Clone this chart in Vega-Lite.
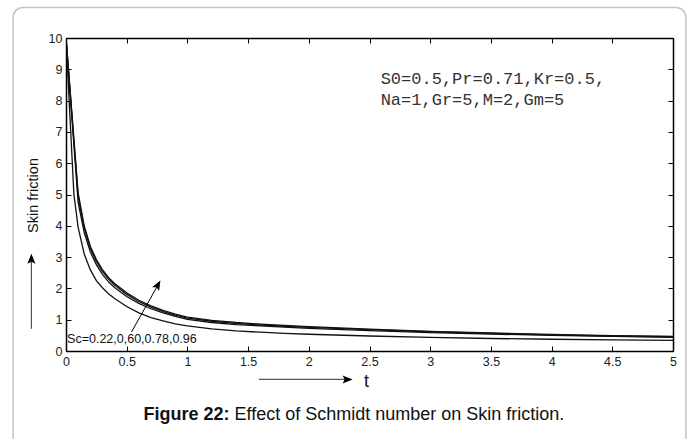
{
  "$schema": "https://vega.github.io/schema/vega-lite/v6.json",
  "width": 607,
  "height": 313,
  "autosize": "none",
  "padding": {"left": 66, "top": 38, "right": 22, "bottom": 88},
  "background": "white",
  "config": {
    "view": {"stroke": null},
    "font": "Liberation Sans",
    "axis": {
      "domainColor": "black",
      "domainWidth": 1.5,
      "tickColor": "black",
      "tickWidth": 1,
      "tickSize": -5,
      "grid": false,
      "labelFont": "Liberation Sans",
      "labelFontSize": 12.5,
      "labelColor": "#222",
      "labelFlush": false,
      "labelOverlap": false,
      "format": "~r",
      "titleFont": "Liberation Sans",
      "titleFontWeight": "normal",
      "titleColor": "#111"
    }
  },
  "datasets": {
    "curves": [
      {"Sc": "0.22", "t": 0, "v": 10}, {"Sc": "0.22", "t": 0.065, "v": 5.0}, {"Sc": "0.22", "t": 0.1, "v": 3.95}, {"Sc": "0.22", "t": 0.15, "v": 3.1}, {"Sc": "0.22", "t": 0.2, "v": 2.6}, {"Sc": "0.22", "t": 0.25, "v": 2.25}, {"Sc": "0.22", "t": 0.3, "v": 2.02}, {"Sc": "0.22", "t": 0.35, "v": 1.83}, {"Sc": "0.22", "t": 0.4, "v": 1.68}, {"Sc": "0.22", "t": 0.5, "v": 1.42}, {"Sc": "0.22", "t": 0.6, "v": 1.22}, {"Sc": "0.22", "t": 0.7, "v": 1.07}, {"Sc": "0.22", "t": 0.8, "v": 0.96}, {"Sc": "0.22", "t": 0.9, "v": 0.87}, {"Sc": "0.22", "t": 1.0, "v": 0.8}, {"Sc": "0.22", "t": 1.2, "v": 0.71}, {"Sc": "0.22", "t": 1.4, "v": 0.645}, {"Sc": "0.22", "t": 1.6, "v": 0.6}, {"Sc": "0.22", "t": 1.8, "v": 0.565}, {"Sc": "0.22", "t": 2.0, "v": 0.535}, {"Sc": "0.22", "t": 2.5, "v": 0.48}, {"Sc": "0.22", "t": 3.0, "v": 0.435}, {"Sc": "0.22", "t": 3.5, "v": 0.4}, {"Sc": "0.22", "t": 4.0, "v": 0.375}, {"Sc": "0.22", "t": 4.5, "v": 0.355}, {"Sc": "0.22", "t": 5.0, "v": 0.34},
      {"Sc": "0.60", "t": 0, "v": 10}, {"Sc": "0.60", "t": 0.1, "v": 4.75}, {"Sc": "0.60", "t": 0.15, "v": 3.78}, {"Sc": "0.60", "t": 0.2, "v": 3.17}, {"Sc": "0.60", "t": 0.25, "v": 2.76}, {"Sc": "0.60", "t": 0.3, "v": 2.45}, {"Sc": "0.60", "t": 0.35, "v": 2.21}, {"Sc": "0.60", "t": 0.4, "v": 2.03}, {"Sc": "0.60", "t": 0.5, "v": 1.74}, {"Sc": "0.60", "t": 0.6, "v": 1.52}, {"Sc": "0.60", "t": 0.7, "v": 1.35}, {"Sc": "0.60", "t": 0.8, "v": 1.22}, {"Sc": "0.60", "t": 0.9, "v": 1.11}, {"Sc": "0.60", "t": 1.0, "v": 1.01}, {"Sc": "0.60", "t": 1.2, "v": 0.91}, {"Sc": "0.60", "t": 1.4, "v": 0.845}, {"Sc": "0.60", "t": 1.6, "v": 0.8}, {"Sc": "0.60", "t": 1.8, "v": 0.76}, {"Sc": "0.60", "t": 2.0, "v": 0.725}, {"Sc": "0.60", "t": 2.5, "v": 0.65}, {"Sc": "0.60", "t": 3.0, "v": 0.59}, {"Sc": "0.60", "t": 3.5, "v": 0.54}, {"Sc": "0.60", "t": 4.0, "v": 0.5}, {"Sc": "0.60", "t": 4.5, "v": 0.465}, {"Sc": "0.60", "t": 5.0, "v": 0.44},
      {"Sc": "0.78", "t": 0, "v": 10}, {"Sc": "0.78", "t": 0.1, "v": 4.95}, {"Sc": "0.78", "t": 0.15, "v": 3.92}, {"Sc": "0.78", "t": 0.2, "v": 3.28}, {"Sc": "0.78", "t": 0.25, "v": 2.86}, {"Sc": "0.78", "t": 0.3, "v": 2.54}, {"Sc": "0.78", "t": 0.35, "v": 2.3}, {"Sc": "0.78", "t": 0.4, "v": 2.11}, {"Sc": "0.78", "t": 0.5, "v": 1.81}, {"Sc": "0.78", "t": 0.6, "v": 1.58}, {"Sc": "0.78", "t": 0.7, "v": 1.4}, {"Sc": "0.78", "t": 0.8, "v": 1.26}, {"Sc": "0.78", "t": 0.9, "v": 1.15}, {"Sc": "0.78", "t": 1.0, "v": 1.05}, {"Sc": "0.78", "t": 1.2, "v": 0.95}, {"Sc": "0.78", "t": 1.4, "v": 0.88}, {"Sc": "0.78", "t": 1.6, "v": 0.83}, {"Sc": "0.78", "t": 1.8, "v": 0.79}, {"Sc": "0.78", "t": 2.0, "v": 0.755}, {"Sc": "0.78", "t": 2.5, "v": 0.68}, {"Sc": "0.78", "t": 3.0, "v": 0.615}, {"Sc": "0.78", "t": 3.5, "v": 0.56}, {"Sc": "0.78", "t": 4.0, "v": 0.515}, {"Sc": "0.78", "t": 4.5, "v": 0.48}, {"Sc": "0.78", "t": 5.0, "v": 0.455},
      {"Sc": "0.96", "t": 0, "v": 10}, {"Sc": "0.96", "t": 0.1, "v": 5.05}, {"Sc": "0.96", "t": 0.15, "v": 4.0}, {"Sc": "0.96", "t": 0.2, "v": 3.35}, {"Sc": "0.96", "t": 0.25, "v": 2.92}, {"Sc": "0.96", "t": 0.3, "v": 2.6}, {"Sc": "0.96", "t": 0.35, "v": 2.35}, {"Sc": "0.96", "t": 0.4, "v": 2.16}, {"Sc": "0.96", "t": 0.5, "v": 1.86}, {"Sc": "0.96", "t": 0.6, "v": 1.62}, {"Sc": "0.96", "t": 0.7, "v": 1.44}, {"Sc": "0.96", "t": 0.8, "v": 1.3}, {"Sc": "0.96", "t": 0.9, "v": 1.18}, {"Sc": "0.96", "t": 1.0, "v": 1.08}, {"Sc": "0.96", "t": 1.2, "v": 0.98}, {"Sc": "0.96", "t": 1.4, "v": 0.91}, {"Sc": "0.96", "t": 1.6, "v": 0.86}, {"Sc": "0.96", "t": 1.8, "v": 0.82}, {"Sc": "0.96", "t": 2.0, "v": 0.78}, {"Sc": "0.96", "t": 2.5, "v": 0.7}, {"Sc": "0.96", "t": 3.0, "v": 0.63}, {"Sc": "0.96", "t": 3.5, "v": 0.575}, {"Sc": "0.96", "t": 4.0, "v": 0.53}, {"Sc": "0.96", "t": 4.5, "v": 0.49}, {"Sc": "0.96", "t": 5.0, "v": 0.465}
    ]
  },
  "resolve": {"axis": {"x": "independent", "y": "independent"}},
  "layer": [
    {
      "data": {"values": [{}]},
      "mark": {"type": "rect", "fill": "white", "fillOpacity": 0, "stroke": "#c4c4c4", "strokeWidth": 1.5, "cornerRadius": 10, "clip": false},
      "encoding": {
        "x": {"datum": -0.436, "type": "quantitative", "axis": null},
        "x2": {"datum": 5.106},
        "y": {"datum": 10.977, "type": "quantitative", "axis": null},
        "y2": {"datum": -3.6}
      }
    },
    {
      "data": {"name": "curves"},
      "mark": {"type": "line", "color": "#111", "strokeWidth": 1.3, "clip": true},
      "encoding": {
        "x": {
          "field": "t", "type": "quantitative",
          "scale": {"domain": [0, 5], "nice": false, "zero": false},
          "axis": {"orient": "bottom", "values": [0, 0.5, 1, 1.5, 2, 2.5, 3, 3.5, 4, 4.5, 5], "labelPadding": 9,
            "title": "t", "titleX": 300, "titleY": 30, "titleFontSize": 18, "titleBaseline": "middle", "titleAlign": "center"}
        },
        "y": {
          "field": "v", "type": "quantitative",
          "scale": {"domain": [0, 10], "nice": false},
          "axis": {"orient": "left", "values": [0, 1, 2, 3, 4, 5, 6, 7, 8, 9, 10], "labelPadding": 9,
            "title": "Skin friction", "titleX": -33, "titleY": 157, "titleAngle": 270, "titleBaseline": "middle", "titleAlign": "center", "titleFontSize": 14.5}
        },
        "detail": {"field": "Sc", "type": "nominal"}
      }
    },
    {
      "data": {"name": "curves"},
      "mark": {"type": "line", "opacity": 0},
      "encoding": {
        "x": {"field": "t", "type": "quantitative", "axis": {"orient": "top", "values": [0, 0.5, 1, 1.5, 2, 2.5, 3, 3.5, 4, 4.5, 5], "labels": false, "title": null}},
        "y": {"field": "v", "type": "quantitative", "axis": {"orient": "right", "values": [0, 1, 2, 3, 4, 5, 6, 7, 8, 9, 10], "labels": false, "title": null}},
        "detail": {"field": "Sc", "type": "nominal"}
      }
    },
    {
      "data": {"values": [{}]},
      "mark": {"type": "rule", "color": "#555", "strokeWidth": 1.2, "clip": false},
      "encoding": {
        "x": {"datum": -0.285, "type": "quantitative", "axis": null},
        "y": {"datum": 0.71, "type": "quantitative", "axis": null},
        "y2": {"datum": 3.0}
      }
    },
    {
      "data": {"values": [{}]},
      "mark": {"type": "point", "shape": "M0,0L-0.6,1.5L0,1.2L0.6,1.5Z", "size": 178, "filled": true, "color": "black", "opacity": 1, "angle": 0, "clip": false},
      "encoding": {
        "x": {"datum": -0.285, "type": "quantitative", "axis": null},
        "y": {"datum": 3.11, "type": "quantitative", "axis": null}
      }
    },
    {
      "data": {"values": [{}]},
      "mark": {"type": "rule", "color": "#555", "strokeWidth": 1.2, "clip": false},
      "encoding": {
        "x": {"datum": 1.589, "type": "quantitative", "axis": null},
        "x2": {"datum": 2.33},
        "y": {"datum": -0.907, "type": "quantitative", "axis": null}
      }
    },
    {
      "data": {"values": [{}]},
      "mark": {"type": "point", "shape": "M0,0L-0.6,1.5L0,1.2L0.6,1.5Z", "size": 178, "filled": true, "color": "black", "opacity": 1, "angle": 90, "clip": false},
      "encoding": {
        "x": {"datum": 2.361, "type": "quantitative", "axis": null},
        "y": {"datum": -0.907, "type": "quantitative", "axis": null}
      }
    },
    {
      "data": {"values": [{}]},
      "mark": {"type": "rule", "color": "black", "strokeWidth": 1, "clip": false},
      "encoding": {
        "x": {"datum": 0.539, "type": "quantitative", "axis": null},
        "x2": {"datum": 0.765},
        "y": {"datum": 0.604, "type": "quantitative", "axis": null},
        "y2": {"datum": 2.16}
      }
    },
    {
      "data": {"values": [{}]},
      "mark": {"type": "point", "shape": "M0,0L-0.6,1.5L0,1.2L0.6,1.5Z", "size": 178, "filled": true, "color": "black", "opacity": 1, "angle": 29.3, "clip": false},
      "encoding": {
        "x": {"datum": 0.778, "type": "quantitative", "axis": null},
        "y": {"datum": 2.256, "type": "quantitative", "axis": null}
      }
    },
    {
      "data": {"values": [{}]},
      "mark": {"type": "text", "text": "Sc=0.22,0,60,0.78,0.96", "font": "Liberation Sans", "fontSize": 12.5, "align": "left", "baseline": "middle", "color": "#111", "clip": false},
      "encoding": {
        "x": {"datum": 0.009, "type": "quantitative", "axis": null},
        "y": {"datum": 0.37, "type": "quantitative", "axis": null}
      }
    },
    {
      "data": {"values": [{}]},
      "mark": {"type": "text", "text": "S0=0.5,Pr=0.71,Kr=0.5,", "font": "Liberation Mono", "fontSize": 17, "align": "left", "baseline": "middle", "color": "#333", "clip": false},
      "encoding": {
        "x": {"datum": 2.592, "type": "quantitative", "axis": null},
        "y": {"datum": 8.70, "type": "quantitative", "axis": null}
      }
    },
    {
      "data": {"values": [{}]},
      "mark": {"type": "text", "text": "Na=1,Gr=5,M=2,Gm=5", "font": "Liberation Mono", "fontSize": 17, "align": "left", "baseline": "middle", "color": "#333", "clip": false},
      "encoding": {
        "x": {"datum": 2.592, "type": "quantitative", "axis": null},
        "y": {"datum": 8.006, "type": "quantitative", "axis": null}
      }
    },
    {
      "data": {"values": [{}]},
      "mark": {"type": "text", "text": "Figure 22:", "font": "Liberation Sans", "fontSize": 18, "fontWeight": "bold", "align": "left", "baseline": "middle", "color": "#111", "clip": false},
      "encoding": {
        "x": {"datum": 0.638, "type": "quantitative", "axis": null},
        "y": {"datum": -2.058, "type": "quantitative", "axis": null}
      }
    },
    {
      "data": {"values": [{}]},
      "mark": {"type": "text", "text": "Effect of Schmidt number on Skin friction.", "font": "Liberation Sans", "fontSize": 18, "align": "left", "baseline": "middle", "color": "#111", "clip": false},
      "encoding": {
        "x": {"datum": 1.388, "type": "quantitative", "axis": null},
        "y": {"datum": -2.058, "type": "quantitative", "axis": null}
      }
    }
  ]
}
